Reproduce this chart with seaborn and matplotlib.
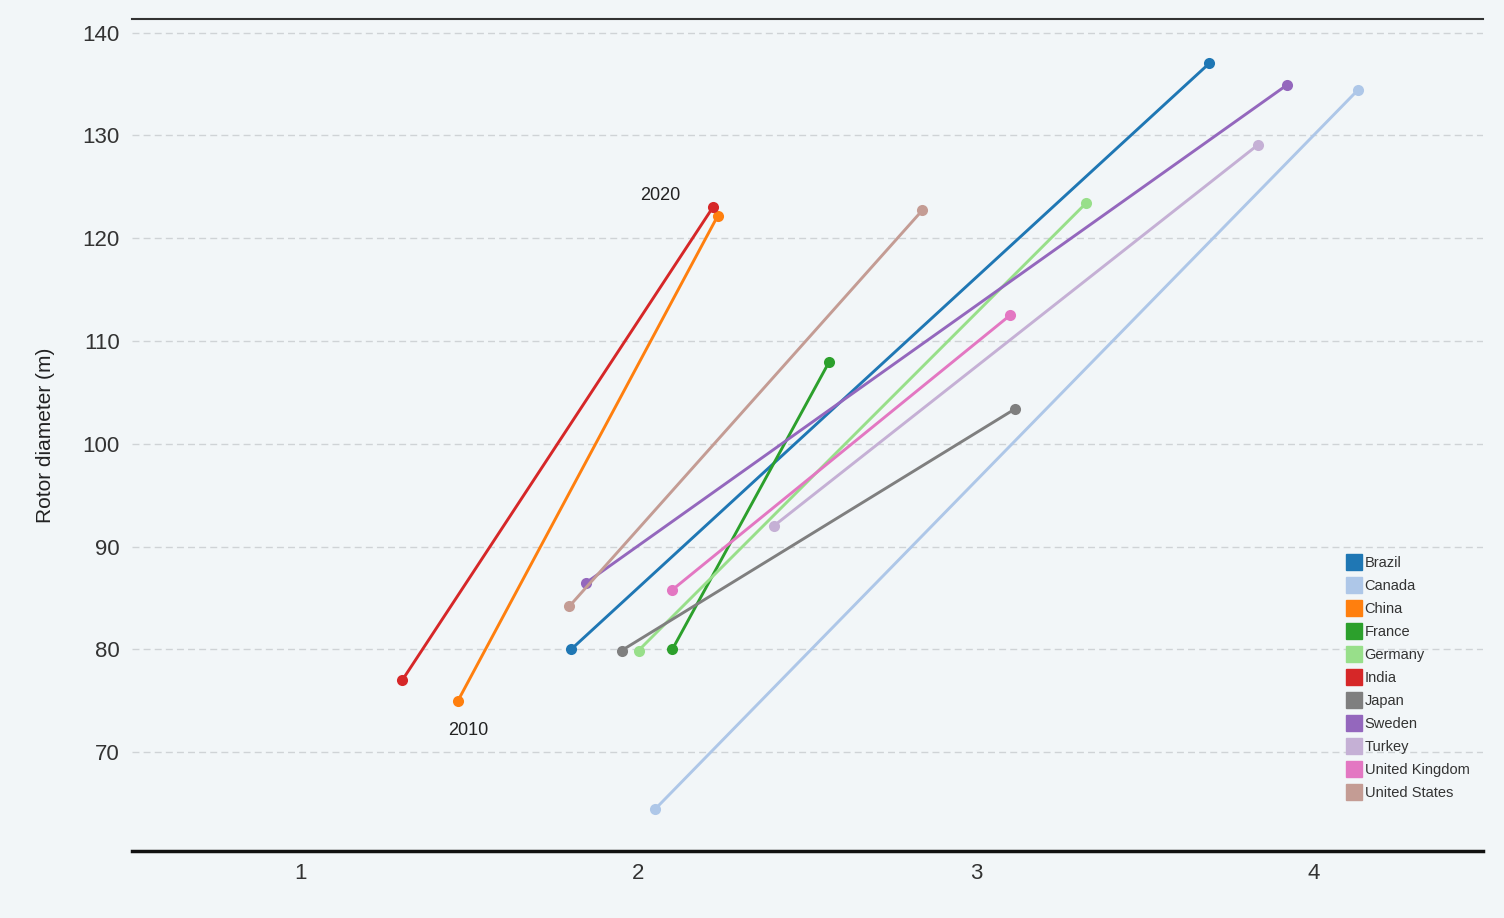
import numpy as np
import pandas as pd
import matplotlib.pyplot as plt
import seaborn as sns
from matplotlib.lines import Line2D

# rated capacity (MW) and rotor diameter (m), 2010 -> 2020
countries = ['Brazil', 'Canada', 'China', 'France', 'Germany', 'India',
             'Japan', 'Sweden', 'Turkey', 'United Kingdom', 'United States']
cap_2010 = [1.80, 2.05, 1.465, 2.10, 2.00, 1.30, 1.95, 1.845, 2.40, 2.10, 1.795]
rot_2010 = [80.0, 64.5, 75.0, 80.0, 79.9, 77.0, 79.9, 86.5, 92.0, 85.8, 84.2]
cap_2020 = [3.69, 4.13, 2.235, 2.565, 3.325, 2.22, 3.115, 3.92, 3.835, 3.10, 2.84]
rot_2020 = [137.0, 134.4, 122.2, 108.0, 123.4, 123.0, 103.4, 134.9, 129.1, 112.5, 122.7]
colors = ['#1f77b4', '#aec7e8', '#ff7f0e', '#2ca02c', '#98df8a', '#d62728',
          '#7f7f7f', '#9467bd', '#c5b0d5', '#e377c2', '#c49c94']

df = pd.DataFrame({
    'country': countries * 2,
    'year': [2010] * len(countries) + [2020] * len(countries),
    'capacity': cap_2010 + cap_2020,
    'diameter': rot_2010 + rot_2020,
})

bg = '#f2f6f8'
sns.set_style('white')
plt.rcParams['font.family'] = ['Liberation Sans', 'DejaVu Sans']

fig = plt.figure(figsize=(15.04, 9.18), dpi=100, facecolor=bg)
ax = fig.add_axes([0.0878, 0.073, 0.898, 0.906])
ax.set_facecolor(bg)

palette = dict(zip(countries, colors))
sns.lineplot(data=df, x='capacity', y='diameter', hue='country', units='country',
             estimator=None, sort=False, palette=palette, marker='o',
             markersize=8, markeredgewidth=0, linewidth=2.1, legend=False, ax=ax)

ax.set_xlim(0.5, 4.5)
ax.set_ylim(60.4, 141.3)
ax.set_xticks([1, 2, 3, 4])
ax.set_yticks([70, 80, 90, 100, 110, 120, 130, 140])
ax.yaxis.grid(True, linestyle=(0, (5, 3)), color='#cfd3d6', linewidth=1)
ax.set_axisbelow(True)
ax.tick_params(axis='both', length=0, labelsize=16, colors='#333333', pad=9)
ax.set_xlabel('')
ax.set_ylabel('Rotor diameter (m)', fontsize=15, color='#222222', labelpad=20)

for side in ['left', 'right']:
    ax.spines[side].set_visible(False)
ax.spines['top'].set_color('#333333')
ax.spines['top'].set_linewidth(1.5)
ax.spines['bottom'].set_color('#111111')
ax.spines['bottom'].set_linewidth(2.5)

ax.text(2.065, 124.2, '2020', fontsize=13, color='#222222', ha='center', va='center')
ax.text(1.495, 72.1, '2010', fontsize=13, color='#222222', ha='center', va='center')

handles = [Line2D([], [], marker='s', linestyle='', markersize=11, color=c) for c in colors]
ax.legend(handles, countries, loc='lower right', bbox_to_anchor=(1.0, 0.045),
          frameon=False, fontsize=10.5, handletextpad=0.15, labelspacing=0.62,
          handlelength=1.2, labelcolor='#333333')

plt.savefig('out.png', dpi=100, facecolor=bg)
